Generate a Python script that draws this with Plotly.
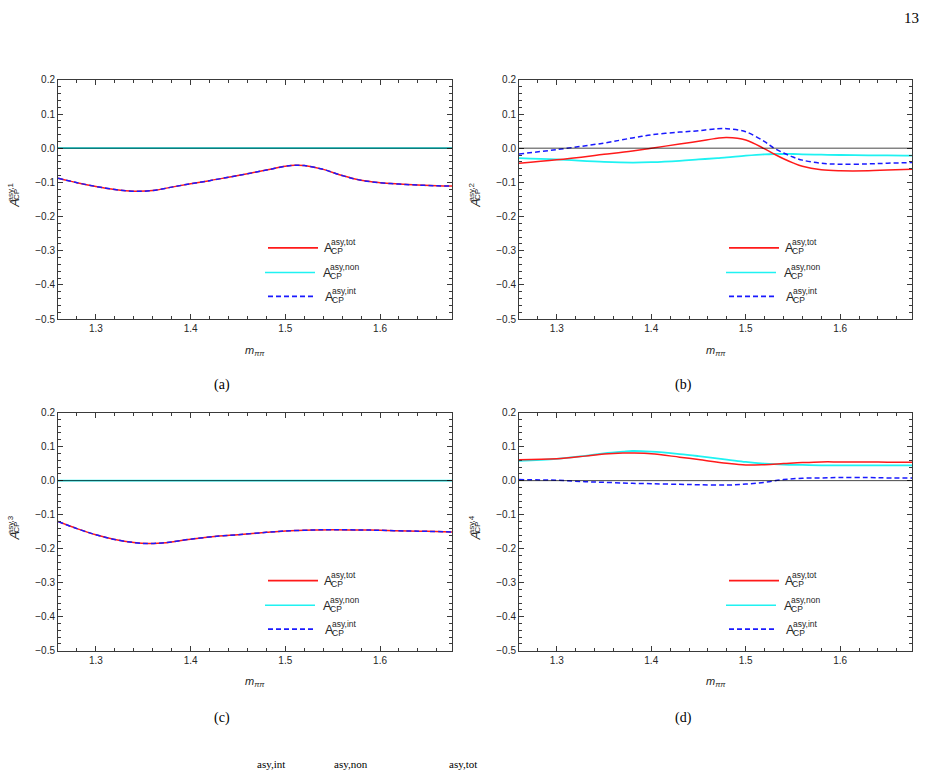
import plotly.graph_objects as go

# ---------------- data ----------------
x_a = [1.26, 1.28, 1.30, 1.32, 1.34, 1.36, 1.38, 1.40, 1.42, 1.44, 1.46, 1.48, 1.50, 1.51,
       1.52, 1.54, 1.56, 1.58, 1.60, 1.62, 1.64, 1.66, 1.676]
tot_a = [-0.088, -0.101, -0.112, -0.121, -0.126, -0.124, -0.114, -0.104, -0.095, -0.085,
         -0.075, -0.064, -0.053, -0.050, -0.051, -0.062, -0.080, -0.094, -0.101, -0.105,
         -0.108, -0.110, -0.111]
non_a = [0.0] * len(x_a)
int_a = tot_a[:]

x_b = [1.26, 1.30, 1.35, 1.38, 1.40, 1.43, 1.45, 1.47, 1.48, 1.50, 1.52, 1.53, 1.54, 1.55,
       1.56, 1.58, 1.60, 1.63, 1.65, 1.676]
tot_b = [-0.044, -0.034, -0.018, -0.008, 0.000, 0.012, 0.020, 0.029, 0.031, 0.024, -0.002,
         -0.017, -0.031, -0.043, -0.053, -0.063, -0.066, -0.066, -0.064, -0.062]
non_b = [-0.029, -0.033, -0.040, -0.042, -0.041, -0.037, -0.033, -0.029, -0.027, -0.022,
         -0.018, -0.017, -0.017, -0.017, -0.018, -0.019, -0.020, -0.021, -0.021, -0.022]
int_b = [-0.017, -0.004, 0.015, 0.030, 0.039, 0.047, 0.051, 0.057, 0.057, 0.048, 0.019,
         0.000, -0.014, -0.026, -0.035, -0.044, -0.047, -0.046, -0.044, -0.042]

x_c = [1.26, 1.28, 1.30, 1.32, 1.34, 1.355, 1.37, 1.38, 1.40, 1.43, 1.45, 1.48, 1.50, 1.53,
       1.55, 1.58, 1.60, 1.63, 1.65, 1.676]
tot_c = [-0.120, -0.141, -0.159, -0.173, -0.182, -0.185, -0.183, -0.180, -0.172, -0.163,
         -0.159, -0.152, -0.148, -0.145, -0.144, -0.145, -0.146, -0.148, -0.149, -0.151]
non_c = [0.0] * len(x_c)
int_c = tot_c[:]

x_d = [1.26, 1.30, 1.33, 1.35, 1.37, 1.38, 1.40, 1.43, 1.45, 1.48, 1.50, 1.52, 1.54, 1.56,
       1.58, 1.60, 1.63, 1.65, 1.676]
tot_d = [0.061, 0.064, 0.072, 0.078, 0.081, 0.081, 0.079, 0.069, 0.062, 0.051, 0.046, 0.047,
         0.050, 0.053, 0.055, 0.055, 0.055, 0.054, 0.054]
non_d = [0.058, 0.064, 0.073, 0.080, 0.085, 0.087, 0.085, 0.078, 0.072, 0.062, 0.055, 0.050,
         0.047, 0.046, 0.045, 0.045, 0.045, 0.045, 0.045]
int_d = [0.003, 0.001, -0.003, -0.005, -0.007, -0.008, -0.009, -0.011, -0.012, -0.013,
         -0.010, -0.005, 0.003, 0.007, 0.008, 0.009, 0.009, 0.008, 0.008]

panels = [
    ("a", x_a, tot_a, non_a, int_a, "1"),
    ("b", x_b, tot_b, non_b, int_b, "2"),
    ("c", x_c, tot_c, non_c, int_c, "3"),
    ("d", x_d, tot_d, non_d, int_d, "4"),
]
series_labels = ["asy,tot", "asy,non", "asy,int"]
x_ticks = [1.3, 1.4, 1.5, 1.6]
y_ticks = [0.2, 0.1, 0.0, -0.1, -0.2, -0.3, -0.4, -0.5]

# ---------------- layout geometry (pixels) ----------------
W, H = 928, 770
def px(x):
    return x / W
def py(y):
    return 1 - y / H

boxes = [(58, 75, 452, 318), (519, 75, 912, 318), (58, 413, 452, 655), (519, 413, 912, 655)]

RED = "#ff1a1a"
CYAN = "#1ff2f2"
BLUE = "#1a1aff"
AX = "#3a3a3a"
TXT = "#262626"
SANS = "Liberation Sans, Arial, sans-serif"
SERIF = "Liberation Serif, DejaVu Serif, serif"

fig = go.Figure()
annotations = []
shapes = []
layout_axes = {}

for i, (name, xs, tot, non, intf, k) in enumerate(panels):
    n = "" if i == 0 else str(i + 1)
    xa, ya = "x" + n, "y" + n
    L, T, R, B = boxes[i]
    fig.add_trace(go.Scatter(x=xs, y=non, mode="lines", line=dict(color=CYAN, width=1.8, shape="spline"),
                             xaxis=xa, yaxis=ya, showlegend=False))
    fig.add_trace(go.Scatter(x=xs, y=tot, mode="lines", line=dict(color=RED, width=1.5, shape="spline"),
                             xaxis=xa, yaxis=ya, showlegend=False))
    fig.add_trace(go.Scatter(x=xs, y=intf, mode="lines",
                             line=dict(color=BLUE, width=1.5, dash="5px,3px", shape="spline"),
                             xaxis=xa, yaxis=ya, showlegend=False))
    common = dict(showline=True, linecolor=AX, linewidth=1, mirror="ticks", ticks="inside",
                  ticklen=5, tickcolor=AX, tickwidth=1, showgrid=False, zeroline=False,
                  tickfont=dict(family=SANS, size=10, color=TXT),
                  minor=dict(ticks="inside", ticklen=3, tickcolor=AX, dtick=0.02, showgrid=False))
    layout_axes["xaxis" + n] = dict(common, domain=[px(L), px(R)], range=[1.26, 1.676],
                                    tickvals=x_ticks, ticktext=[f"{v:.1f}" for v in x_ticks],
                                    anchor=ya)
    layout_axes["yaxis" + n] = dict(common, domain=[py(B), py(T)], range=[-0.5, 0.2],
                                    tickvals=y_ticks,
                                    ticktext=[f"{v:.1f}".replace("-", "\u2212") for v in y_ticks],
                                    anchor=xa)
    # zero reference line
    shapes.append(dict(type="line", xref=xa + " domain", yref=ya, x0=0, x1=1, y0=0, y1=0,
                       line=dict(color="rgba(0,0,0,0.72)", width=1), layer="above"))
    # x-axis title
    annotations.append(dict(x=px((L + R) / 2), y=py(B + 32), xref="paper", yref="paper",
                            text="<i>m</i><sub><i>\u03c0\u03c0</i></sub>", showarrow=False,
                            font=dict(family=SANS, size=11, color=TXT),
                            xanchor="center", yanchor="middle"))
    # y-axis title (A with stacked super/subscript, rotated)
    annotations.append(dict(x=px(L - 43), y=py(T + 126), xref="paper", yref="paper", text="<i>A</i>",
                            showarrow=False, textangle=-90, font=dict(family=SANS, size=12.5, color=TXT),
                            xanchor="center", yanchor="middle"))
    annotations.append(dict(x=px(L - 47.5), y=py(T + 114), xref="paper", yref="paper",
                            text="asy," + k, showarrow=False, textangle=-90,
                            font=dict(family=SANS, size=8, color=TXT), xanchor="center", yanchor="middle"))
    annotations.append(dict(x=px(L - 41.5), y=py(T + 116.5), xref="paper", yref="paper",
                            text="CP", showarrow=False, textangle=-90,
                            font=dict(family=SANS, size=8, color=TXT), xanchor="center", yanchor="middle"))
    # custom legend
    leg = [(210, 260, 170.7, RED, None, 264.0, series_labels[0]),
           (207, 257, 195.7, CYAN, None, 263.0, series_labels[1]),
           (210, 255, 220.0, BLUE, "5px,3px", 264.5, series_labels[2])]
    for (x0, x1, yy, col, dash, ax_, lab) in leg:
        ln = dict(color=col, width=1.6)
        if dash:
            ln["dash"] = dash
        shapes.append(dict(type="line", xref="paper", yref="paper", x0=px(L + x0), x1=px(L + x1),
                           y0=py(T + yy), y1=py(T + yy), line=ln))
        annotations.append(dict(x=px(L + ax_), y=py(T + yy + 0.5), xref="paper", yref="paper", text="A",
                                showarrow=False, font=dict(family=SANS, size=12.5, color=TXT),
                                xanchor="left", yanchor="middle"))
        annotations.append(dict(x=px(L + ax_ + 7), y=py(T + yy - 5.5), xref="paper", yref="paper", text=lab,
                                showarrow=False, font=dict(family=SANS, size=8.5, color=TXT),
                                xanchor="left", yanchor="middle"))
        annotations.append(dict(x=px(L + ax_ + 7), y=py(T + yy + 3.5), xref="paper", yref="paper", text="CP",
                                showarrow=False, font=dict(family=SANS, size=8.5, color=TXT),
                                xanchor="left", yanchor="middle"))
    # caption
    annotations.append(dict(x=px(L + 164), y=py(T + 310), xref="paper", yref="paper", text=f"({name})",
                            showarrow=False, font=dict(family=SERIF, size=14, color="black"),
                            xanchor="center", yanchor="middle"))

# page number
annotations.append(dict(x=px(921), y=py(12), xref="paper", yref="paper", text="13", showarrow=False,
                        font=dict(family=SERIF, size=15, color="black"), xanchor="right", yanchor="middle"))
# line of text at the very bottom of the page (only its top shows in the reference)
for xx, t in [(255, "asy,int"), (332, "asy,non"), (447, "asy,tot")]:
    annotations.append(dict(x=px(xx), y=py(762), xref="paper", yref="paper", text=t, showarrow=False,
                            font=dict(family=SERIF, size=11, color="black"), xanchor="left", yanchor="top"))

fig.update_layout(width=W, height=H, margin=dict(l=0, r=0, t=0, b=0),
                  paper_bgcolor="white", plot_bgcolor="white", showlegend=False,
                  annotations=annotations, shapes=shapes, **layout_axes)

fig.write_html("out.html")
